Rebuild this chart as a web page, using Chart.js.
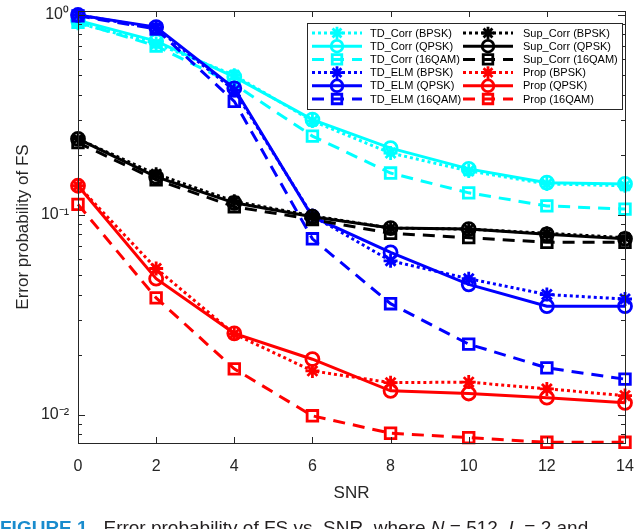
<!DOCTYPE html>
<html>
<head>
<meta charset="utf-8">
<script src="https://cdn.jsdelivr.net/npm/chart.js@4/dist/chart.umd.min.js"></script>
<style>
  html, body { margin: 0; padding: 0; background: #fff; overflow: hidden; }
  #wrap { position: relative; width: 640px; height: 529px; overflow: hidden; }
  #caption { position: absolute; left: 0; top: 517px; white-space: nowrap; line-height: 22px;
             font: 19px "Liberation Sans", Arial, sans-serif; color: #231f20; }
  #caption b { color: #1a8ccd; }
</style>
</head>
<body>
<div id="wrap">
  <canvas id="chart" width="640" height="529"></canvas>
  <div id="caption"><b>FIGURE 1.</b>&nbsp;&nbsp;Error probability of FS vs. SNR, where <i>N</i> = 512, <i>L</i> = 2 and</div>
</div>
<script>
// SNR values on the x axis
const snr = [0, 2, 4, 6, 8, 10, 12, 14];

// error probability
const tdCorrBpsk   = [0.91, 0.72, 0.50, 0.295, 0.204, 0.166, 0.143, 0.140];
const tdCorrQpsk   = [0.94, 0.74, 0.49, 0.300, 0.216, 0.170, 0.145, 0.143];
const tdCorr16qam  = [0.92, 0.70, 0.45, 0.248, 0.162, 0.129, 0.111, 0.107];
const tdElmBpsk    = [1.00, 0.86, 0.42, 0.099, 0.059, 0.048, 0.040, 0.038];
const tdElmQpsk    = [1.00, 0.87, 0.43, 0.098, 0.065, 0.045, 0.035, 0.035];
const tdElm16qam   = [0.99, 0.85, 0.37, 0.076, 0.036, 0.0226, 0.0172, 0.0151];
const supCorrBpsk  = [0.24, 0.160, 0.117, 0.099, 0.086, 0.085, 0.081, 0.077];
const supCorrQpsk  = [0.24, 0.155, 0.115, 0.098, 0.086, 0.085, 0.080, 0.076];
const supCorr16qam = [0.23, 0.150, 0.110, 0.095, 0.081, 0.077, 0.073, 0.073];
const propBpsk     = [0.140, 0.054, 0.0254, 0.0166, 0.0145, 0.0146, 0.0135, 0.0125];
const propQpsk     = [0.140, 0.048, 0.0256, 0.0190, 0.0132, 0.0128, 0.0122, 0.0115];
const prop16qam    = [0.113, 0.0385, 0.0170, 0.0099, 0.0081, 0.0077, 0.0073, 0.0073];

const seriesLabels = [
  'TD_Corr (BPSK)', 'TD_Corr (QPSK)', 'TD_Corr (16QAM)',
  'TD_ELM (BPSK)', 'TD_ELM (QPSK)', 'TD_ELM (16QAM)',
  'Sup_Corr (BPSK)', 'Sup_Corr (QPSK)', 'Sup_Corr (16QAM)',
  'Prop (BPSK)', 'Prop (QPSK)', 'Prop (16QAM)'
];
const seriesValues = [
  tdCorrBpsk, tdCorrQpsk, tdCorr16qam,
  tdElmBpsk, tdElmQpsk, tdElm16qam,
  supCorrBpsk, supCorrQpsk, supCorr16qam,
  propBpsk, propQpsk, prop16qam
];
const xTicks = [0, 2, 4, 6, 8, 10, 12, 14];

const FONT = '"Liberation Sans", Arial, sans-serif';
const AXIS = '#262626';

// colour per method, style per modulation
const colors = ['#00FFFF', '#0000FF', '#000000', '#FF0000'];
const drawOrder = [4, 3, 2, 1];
const styles = [
  { dash: [3, 3], point: 'star', radius: 7 },
  { dash: [], point: 'circle', radius: 6.5 },
  { dash: [12, 8], point: 'rect', radius: 7.5 }
];

const datasets = seriesValues.map((vals, i) => {
  const c = colors[Math.floor(i / 3)];
  const s = styles[i % 3];
  return {
    label: seriesLabels[i],
    data: snr.map((x, j) => ({ x: x, y: vals[j] })),
    borderColor: c,
    backgroundColor: 'rgba(0,0,0,0)',
    borderWidth: 3,
    borderDash: s.dash,
    pointStyle: s.point,
    pointRadius: s.radius,
    pointBorderWidth: 2.8,
    pointBorderColor: c,
    pointBackgroundColor: 'rgba(0,0,0,0)',
    tension: 0,
    clip: false,
    order: drawOrder[Math.floor(i / 3)]
  };
});

const supers = { '0': '\u2070', '1': '\u00B9', '2': '\u00B2', '3': '\u00B3', '-': '\u207B' };
function powLabel(v) {
  const e = Math.log10(v);
  if (Math.abs(e - Math.round(e)) > 1e-6) return '';
  return '10' + String(Math.round(e)).split('').map(ch => supers[ch]).join('');
}

// box round the plot with inward ticks, like the original
const axesPlugin = {
  id: 'matlabAxes',
  afterDatasetsDraw(chart) {
    const { ctx, chartArea: a, scales: { x, y } } = chart;
    ctx.save();
    ctx.strokeStyle = AXIS;
    ctx.lineWidth = 1;
    ctx.setLineDash([]);
    ctx.beginPath();
    xTicks.forEach(t => {
      const px = Math.round(x.getPixelForValue(t)) + 0.5;
      ctx.moveTo(px, a.bottom); ctx.lineTo(px, a.bottom - 6);
      ctx.moveTo(px, a.top); ctx.lineTo(px, a.top + 6);
    });
    for (let e = -3; e <= 0; e++) {
      for (let k = 1; k < 10; k++) {
        const v = k * Math.pow(10, e);
        if (v < y.min || v > y.max) continue;
        const len = k === 1 ? 7 : 4;
        const py = Math.round(y.getPixelForValue(v)) + 0.5;
        ctx.moveTo(a.left, py); ctx.lineTo(a.left + len, py);
        ctx.moveTo(a.right, py); ctx.lineTo(a.right - len, py);
      }
    }
    ctx.stroke();
    ctx.strokeRect(Math.round(a.left) + 0.5, Math.round(a.top) + 0.5,
                   Math.round(a.right - a.left), Math.round(a.bottom - a.top));
    ctx.restore();
  }
};

// two-column legend inside the plot, top right
const legendPlugin = {
  id: 'boxLegend',
  afterDraw(chart) {
    const ctx = chart.ctx;
    ctx.save();
    ctx.fillStyle = '#fff';
    ctx.fillRect(307, 23, 315, 86);
    ctx.strokeStyle = AXIS;
    ctx.lineWidth = 1;
    ctx.strokeRect(307.5, 23.5, 315, 86);
    ctx.font = '11px ' + FONT;
    ctx.textBaseline = 'middle';
    chart.data.datasets.forEach((ds, i) => {
      const col = Math.floor(i / 6), row = i % 6;
      const x0 = col ? 463 : 312;
      const yy = 33 + row * 13.2;
      ctx.strokeStyle = ds.borderColor;
      ctx.lineWidth = ds.borderWidth;
      ctx.setLineDash(ds.borderDash);
      ctx.beginPath(); ctx.moveTo(x0, yy); ctx.lineTo(x0 + 50, yy); ctx.stroke();
      ctx.setLineDash([]);
      ctx.lineWidth = ds.pointBorderWidth;
      ctx.fillStyle = 'rgba(0,0,0,0)';
      Chart.helpers.drawPoint(ctx, { pointStyle: ds.pointStyle, radius: ds.pointRadius * 0.9,
                                     borderWidth: ds.pointBorderWidth, rotation: 0 }, x0 + 25, yy);
      ctx.fillStyle = '#000';
      ctx.fillText(ds.label, col ? 523 : 370, yy + 0.5);
    });
    ctx.restore();
  }
};

new Chart(document.getElementById('chart'), {
  type: 'line',
  data: { datasets: datasets },
  plugins: [axesPlugin, legendPlugin],
  options: {
    responsive: false,
    animation: false,
    devicePixelRatio: 1,
    layout: { padding: { top: 11, right: 15, left: 0, bottom: 0 } },
    plugins: { legend: { display: false }, tooltip: { enabled: false } },
    scales: {
      x: {
        type: 'linear',
        min: 0, max: 14,
        afterFit(s) { s.height = 86; s.paddingLeft = 0; s.paddingRight = 0; },
        afterBuildTicks(s) { s.ticks = xTicks.map(v => ({ value: v })); },
        grid: { display: false, drawTicks: false },
        border: { display: false },
        ticks: { padding: 14, color: AXIS, font: { family: FONT, size: 16 } },
        title: { display: true, text: 'SNR', color: AXIS,
                 font: { family: FONT, size: 17 }, padding: { top: 0, bottom: 25 } }
      },
      y: {
        type: 'logarithmic',
        min: 0.00724, max: 1.047,
        afterFit(s) { s.width = 78; s.paddingTop = 0; s.paddingBottom = 0; },
        grid: { display: false, drawTicks: false },
        border: { display: false },
        ticks: { padding: 9, color: AXIS, autoSkip: false, font: { family: FONT, size: 16 },
                 callback: v => powLabel(v) },
        title: { display: true, text: 'Error probability of FS', color: AXIS,
                 font: { family: FONT, size: 17 }, padding: { top: 13, bottom: 0 } }
      }
    }
  }
});
</script>
</body>
</html>
